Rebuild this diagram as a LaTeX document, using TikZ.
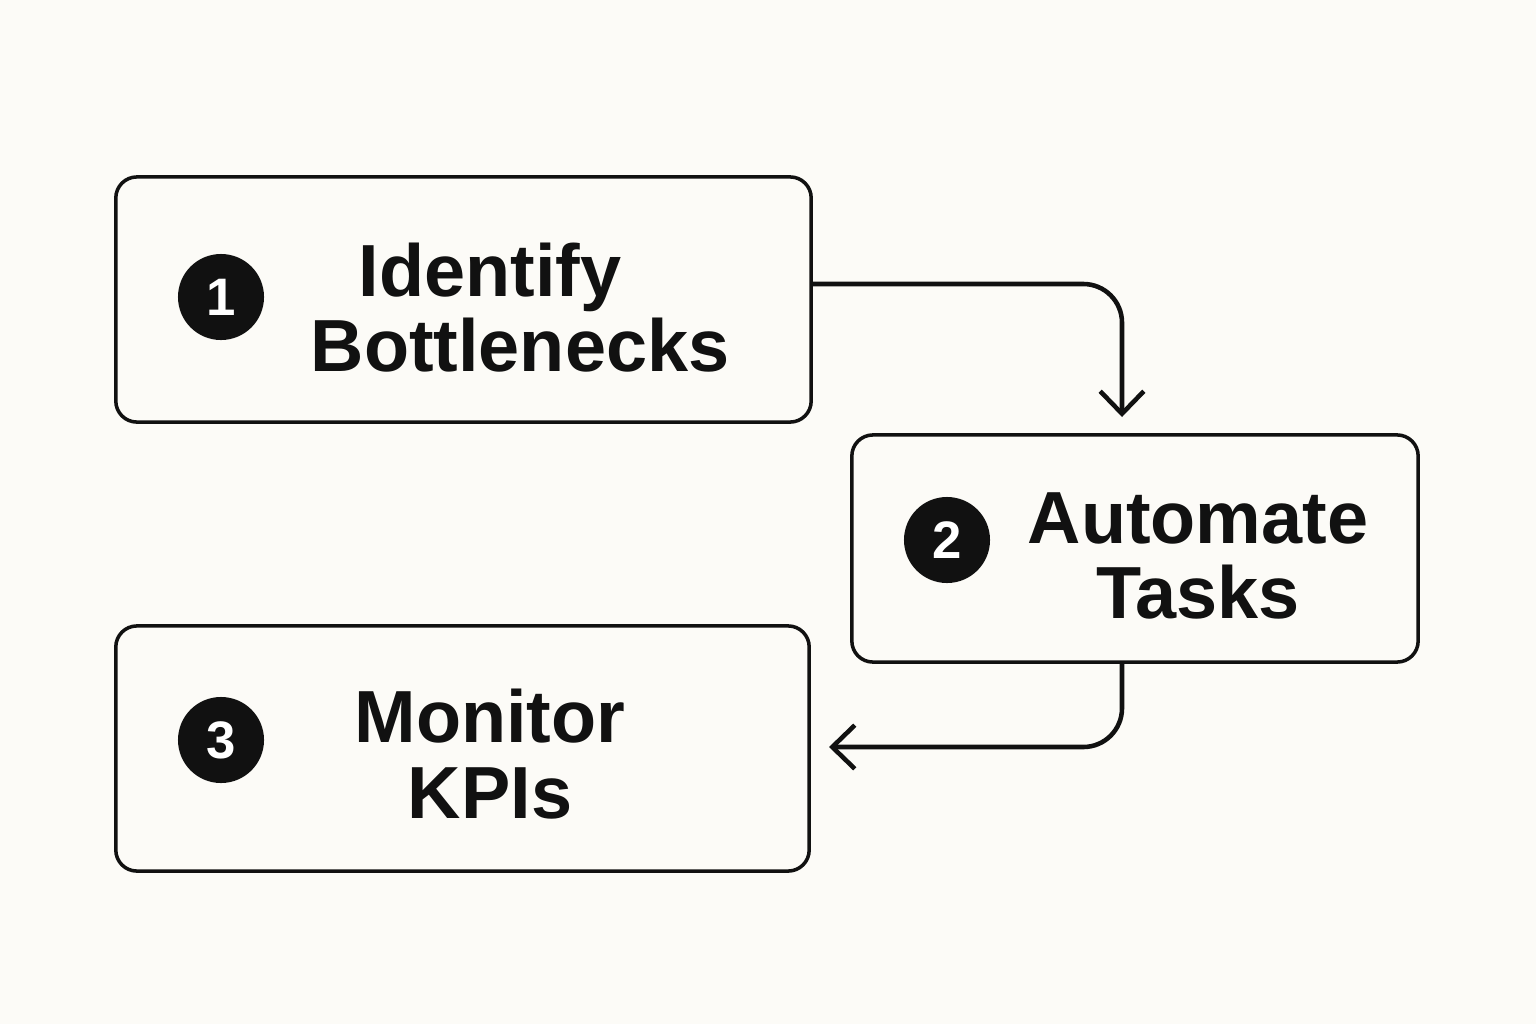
\documentclass[tikz,border=0pt]{standalone}
\usepackage{fontspec}
\setmainfont{Liberation Sans}
\usetikzlibrary{arrows.meta}
\definecolor{paper}{RGB}{252,251,247}
\definecolor{ink}{RGB}{17,17,17}
\tikzset{
    stepbox/.style={
        rectangle,
        draw=ink,
        rounded corners=6pt, % 圆角
        line width=1pt,
        inner sep=0
    },
    numdot/.style={
        circle,
        fill=ink,
        text=white,
        minimum size=0.86cm,
        inner sep=0,
        font=\fontsize{15}{15}\selectfont\bfseries
    },
    steplabel/.style={
        align=center,
        inner sep=0,
        text=ink,
        font=\fontsize{21}{21.4}\selectfont\bfseries
    },
    flowline/.style={
        draw=ink,
        line width=1.3pt,
        rounded corners=11pt,
        -{Straight Barb[length=6.4pt,width=12.4pt,line width=1.3pt]}
    }
}

\begin{document}
\begin{tikzpicture}[x=0.01cm,y=-0.01cm]
    % 背景
    \fill[paper] (0,0) rectangle (1536,1024);
    \useasboundingbox (0,0) rectangle (1536,1024);

    % 三个步骤框
    \node[stepbox, minimum width=6.95cm, minimum height=2.45cm] (box1) at (463.5,299.5) {};
    \node[stepbox, minimum width=5.66cm, minimum height=2.27cm] (box2) at (1135,548.5) {};
    \node[stepbox, minimum width=6.93cm, minimum height=2.45cm] (box3) at (462.5,748.5) {};

    % 编号
    \node[numdot] (num1) at (221,297) {1};
    \node[numdot] (num2) at (947,540) {2};
    \node[numdot] (num3) at (221,740) {3};

    % 文字
    \node[steplabel] (lab1) at (520,307.5) {Identify\hspace*{17pt}\\Bottlenecks};
    \node[steplabel] (lab2) at (1198,556) {Automate\\Tasks};
    \node[steplabel] (lab3) at (490,754) {Monitor\\KPIs};

    % 连线
    \coordinate (turn1) at (1122,284);
    \coordinate (tip1) at (1122,417);
    \coordinate (turn2) at (1122,747);
    \coordinate (tip2) at (829,747);
    \draw[flowline] (box1.east |- turn1) -| (tip1);
    \draw[flowline] (box2.south -| turn2) |- (tip2);
\end{tikzpicture}
\end{document}
